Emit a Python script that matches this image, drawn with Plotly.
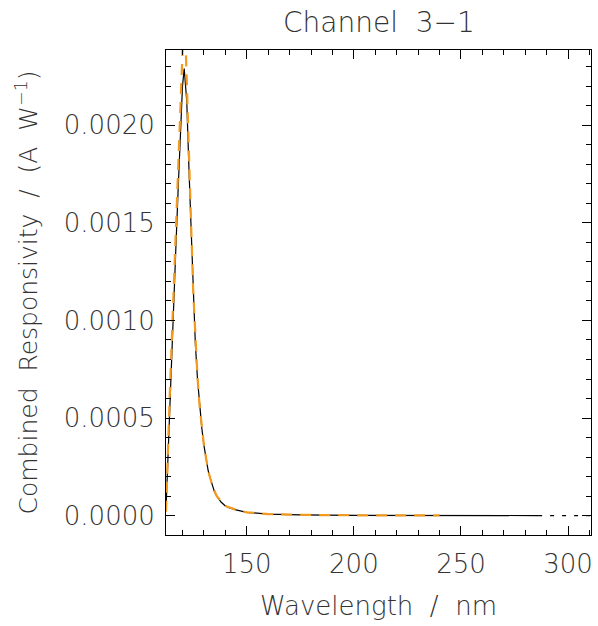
import plotly.graph_objects as go

# Black solid curve: combined responsivity (measured)
wl_black = [112.3, 113, 114, 115, 116, 117, 118, 119, 120, 120.8, 122, 123, 124, 125, 126,
            127, 128, 129, 130, 131, 132, 133, 134, 135, 136, 138, 140, 142, 145, 150,
            160, 175, 200, 250, 286]
resp_black = [0.00003, 0.00025, 0.00055, 0.00085, 0.00115, 0.0014, 0.00168, 0.00195, 0.0022,
              0.00229, 0.00212, 0.00178, 0.00145, 0.00112, 0.00088, 0.0007, 0.00056, 0.00045,
              0.00036, 0.00029, 0.00023, 0.00019, 0.00015, 0.00012, 0.0001, 0.00007, 0.00005,
              0.00004, 0.00003, 0.000017, 0.000008, 0.000004, 0.000002, 0.000001, 0.0000005]

# Dotted tail of the black curve
wl_tail = [286, 310.7]
resp_tail = [0.0000005, 0.0000003]

# Orange dashed curve: model
wl_orange = [112.3, 113, 114, 115, 116, 117, 118, 119, 120, 120.6, 121.5, 122, 123, 124, 125,
             126, 127, 128, 129, 130, 132, 134, 136, 140, 145, 150, 160, 175, 200, 240]
resp_orange = [0.00002, 0.0003, 0.0006, 0.0009, 0.0012, 0.0015, 0.0018, 0.0021, 0.0024, 0.00255,
               0.0024, 0.0022, 0.00185, 0.0015, 0.00115, 0.0009, 0.00071, 0.00056, 0.00045,
               0.00036, 0.00023, 0.00015, 0.0001, 0.00005, 0.00003, 0.000017, 0.000008,
               0.000004, 0.000002, 0.0000012]

x_ticks = [150, 200, 250, 300]
y_ticks = [0.0, 0.0005, 0.0010, 0.0015, 0.0020]
y_tick_labels = ["0.0000", "0.0005", "0.0010", "0.0015", "0.0020"]

FONT = "DejaVu Sans"
TXT = "#333333"
TF = dict(family=FONT, size=25, color=TXT, weight=200)
TICKF = dict(family=FONT, size=26, color=TXT, weight=200)

fig = go.Figure()
fig.add_trace(go.Scatter(x=wl_black, y=resp_black, mode="lines",
                         line=dict(color="black", width=1.2), showlegend=False))
fig.add_trace(go.Scatter(x=wl_tail, y=resp_tail, mode="lines",
                         line=dict(color="black", width=1.2, dash="4px,8px"), showlegend=False))
fig.add_trace(go.Scatter(x=wl_orange, y=resp_orange, mode="lines",
                         line=dict(color="#F39A1E", width=2.2, dash="11px,8px"), showlegend=False))

fig.update_layout(
    width=598, height=626,
    margin=dict(l=166, r=7, t=50, b=91, autoexpand=False),
    paper_bgcolor="white", plot_bgcolor="white",
    font=TF,
    showlegend=False,
    annotations=[
        dict(text="Channel  3−1", xref="paper", yref="paper", x=0.5, y=(535 - 23) / 485,
             xanchor="center", yanchor="middle", showarrow=False,
             font=dict(family=FONT, size=28, color=TXT, weight=200)),
        dict(text="Wavelength  /  nm", xref="paper", yref="paper", x=0.5, y=(535 - 606) / 485,
             xanchor="center", yanchor="middle", showarrow=False,
             font=dict(family=FONT, size=26, color=TXT, weight=200)),
        dict(text="Combined  Responsivity  /  (A  W<sup>−1</sup>)", xref="paper", yref="paper",
             x=(27 - 166) / 425, y=0.5, textangle=-90,
             xanchor="center", yanchor="middle", showarrow=False, font=TF),
    ],
)
fig.update_xaxes(
    range=[112.3, 310.7], tickvals=x_ticks, ticktext=[str(v) for v in x_ticks],
    automargin=False,
    showgrid=False, zeroline=False, showline=True, linecolor="black", linewidth=1,
    mirror="ticks", ticks="inside", ticklen=9, tickcolor="black", tickwidth=1,
    minor=dict(dtick=10, tick0=0, ticks="inside", ticklen=5, tickcolor="black", showgrid=False),
    tickfont=TICKF, ticklabelstandoff=6,
)
fig.update_yaxes(
    range=[-0.000099, 0.002385], tickvals=y_ticks, ticktext=y_tick_labels,
    automargin=False,
    showgrid=False, zeroline=False, showline=True, linecolor="black", linewidth=1,
    mirror="ticks", ticks="inside", ticklen=9, tickcolor="black", tickwidth=1,
    minor=dict(dtick=0.0001, tick0=0, ticks="inside", ticklen=5, tickcolor="black", showgrid=False),
    tickfont=TICKF, ticklabelstandoff=5,
)

fig.write_html("out.html", config={"displayModeBar": False},
               post_script="document.body.style.margin='0';document.body.style.overflow='hidden';")
